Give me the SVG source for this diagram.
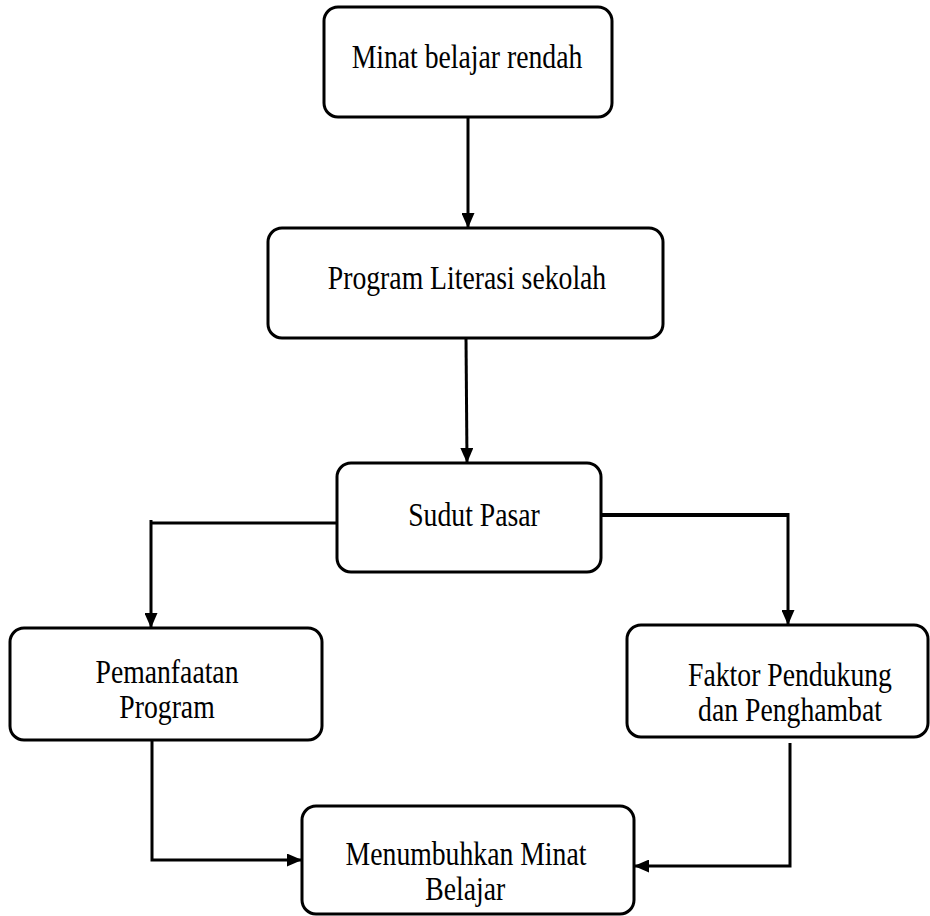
<svg xmlns="http://www.w3.org/2000/svg" width="930" height="916" viewBox="0 0 930 916">
  <style>
    .box { fill: #ffffff; stroke: #000000; stroke-width: 3; }
    .lbl { font-family: 'Liberation Serif', 'Times New Roman', Times, serif; font-size: 34px; fill: #000000; text-anchor: middle; }
    .conn { fill: none; stroke: #000000; stroke-width: 3; }
  </style>
  <defs>
    <marker id="arrow" viewBox="0 0 15 13" refX="15" refY="6.5" markerWidth="15" markerHeight="13" markerUnits="userSpaceOnUse" orient="auto">
      <path d="M0,0 L15,6.5 L0,13 Z" fill="#000000"/>
    </marker>
  </defs>
  <rect width="930" height="916" fill="#ffffff"/>

  <g id="connectors">
    <path class="conn" d="M468,117 V228" marker-end="url(#arrow)"/>
    <path class="conn" d="M466,338 L467,463" marker-end="url(#arrow)"/>
    <path class="conn" d="M337,523 H151 M151,520 V628" marker-end="url(#arrow)"/>
    <path class="conn" d="M601,515 H788" style="stroke-width:4"/>
    <path class="conn" d="M788,513 V625" marker-end="url(#arrow)"/>
    <path class="conn" d="M152,740 V860 H302" marker-end="url(#arrow)"/>
    <path class="conn" d="M790,743 V866 H634" marker-end="url(#arrow)"/>
  </g>

  <g id="node-minat-rendah">
    <rect class="box" x="324" y="7" width="288" height="110" rx="14" ry="14"/>
    <text class="lbl" font-family="Liberation Serif" transform="translate(467,68) scale(0.815,1)">Minat belajar rendah</text>
  </g>

  <g id="node-program-literasi">
    <rect class="box" x="268" y="228" width="395" height="110" rx="14" ry="14"/>
    <text class="lbl" font-family="Liberation Serif" transform="translate(467,289) scale(0.815,1)">Program Literasi sekolah</text>
  </g>

  <g id="node-sudut-pasar">
    <rect class="box" x="337" y="463" width="264" height="109" rx="14" ry="14"/>
    <text class="lbl" font-family="Liberation Serif" transform="translate(474,526) scale(0.815,1)">Sudut Pasar</text>
  </g>

  <g id="node-pemanfaatan">
    <rect class="box" x="10" y="628" width="312" height="112" rx="14" ry="14"/>
    <text class="lbl" font-family="Liberation Serif" transform="translate(167,683) scale(0.815,1)"><tspan x="0" y="0">Pemanfaatan</tspan><tspan x="0" y="35">Program</tspan></text>
  </g>

  <g id="node-faktor">
    <rect class="box" x="627" y="625" width="301" height="112" rx="14" ry="14"/>
    <text class="lbl" font-family="Liberation Serif" transform="translate(790,686) scale(0.815,1)"><tspan x="0" y="0">Faktor Pendukung</tspan><tspan x="0" y="35">dan Penghambat</tspan></text>
  </g>

  <g id="node-menumbuhkan">
    <rect class="box" x="302" y="806" width="332" height="108" rx="14" ry="14"/>
    <text class="lbl" font-family="Liberation Serif" transform="translate(466,865) scale(0.815,1)"><tspan x="0" y="0">Menumbuhkan Minat</tspan><tspan x="-1" y="35">Belajar</tspan></text>
  </g>
</svg>
